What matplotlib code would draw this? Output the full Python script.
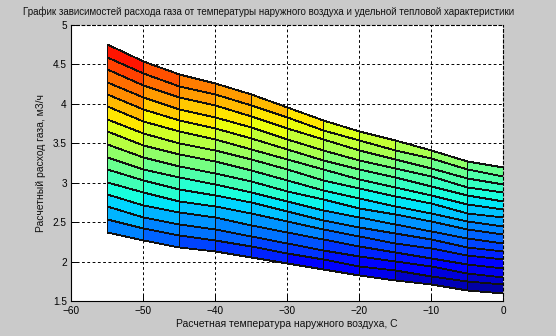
import numpy as np
import matplotlib
matplotlib.use('Agg')
import matplotlib.pyplot as plt

plt.rcParams['font.family'] = ['Liberation Sans', 'DejaVu Sans']
plt.rcParams['lines.scale_dashes'] = False

# Outdoor air design temperature, C (surface columns)
temperatures = [-55, -50, -45, -40, -35, -30, -25, -20, -15, -10, -5, 0]

# Design gas consumption, m3/h: one row per specific heat characteristic level
# (bottom row = lowest characteristic, top row = highest)
gas_flow = [
    [2.38, 2.27, 2.19, 2.13, 2.06, 1.98, 1.90, 1.83, 1.77, 1.71, 1.64, 1.60],
    [2.54, 2.42, 2.34, 2.27, 2.20, 2.11, 2.03, 1.95, 1.89, 1.82, 1.75, 1.71],
    [2.70, 2.57, 2.48, 2.41, 2.33, 2.24, 2.15, 2.07, 2.01, 1.94, 1.86, 1.81],
    [2.86, 2.72, 2.63, 2.56, 2.47, 2.38, 2.28, 2.20, 2.12, 2.05, 1.97, 1.92],
    [3.01, 2.88, 2.77, 2.70, 2.61, 2.51, 2.41, 2.32, 2.24, 2.17, 2.08, 2.03],
    [3.17, 3.03, 2.92, 2.84, 2.75, 2.64, 2.53, 2.44, 2.36, 2.28, 2.19, 2.13],
    [3.33, 3.18, 3.07, 2.98, 2.88, 2.77, 2.66, 2.56, 2.48, 2.39, 2.30, 2.24],
    [3.49, 3.33, 3.21, 3.12, 3.02, 2.90, 2.79, 2.68, 2.60, 2.51, 2.41, 2.35],
    [3.65, 3.48, 3.36, 3.27, 3.16, 3.04, 2.91, 2.81, 2.71, 2.62, 2.51, 2.45],
    [3.81, 3.63, 3.50, 3.41, 3.30, 3.17, 3.04, 2.93, 2.83, 2.74, 2.62, 2.56],
    [3.97, 3.78, 3.65, 3.55, 3.43, 3.30, 3.17, 3.05, 2.95, 2.85, 2.73, 2.67],
    [4.13, 3.94, 3.80, 3.69, 3.57, 3.43, 3.29, 3.17, 3.07, 2.96, 2.84, 2.77],
    [4.28, 4.09, 3.94, 3.83, 3.71, 3.56, 3.42, 3.29, 3.19, 3.08, 2.95, 2.88],
    [4.44, 4.24, 4.09, 3.98, 3.85, 3.70, 3.55, 3.42, 3.30, 3.19, 3.06, 2.99],
    [4.60, 4.39, 4.23, 4.12, 3.98, 3.83, 3.67, 3.54, 3.42, 3.31, 3.17, 3.09],
    [4.76, 4.54, 4.38, 4.26, 4.12, 3.96, 3.80, 3.66, 3.54, 3.42, 3.28, 3.20],
]

x_ticks = [-60, -50, -40, -30, -20, -10, 0]
y_ticks = [1.5, 2, 2.5, 3, 3.5, 4, 4.5, 5]
y_tick_labels = ['1.5', '2', '2.5', '3', '3.5', '4', '4.5', '5']

title = 'График зависимостей расхода газа от температуры наружного воздуха и удельной тепловой характеристики'
xlabel = 'Расчетная температура наружного воздуха, С'
ylabel = 'Расчетный расход газа, м3/ч'

W, H = 556, 336
fig = plt.figure(figsize=(W / 100, H / 100), dpi=100, facecolor='#cacaca')
ax = fig.add_axes([71 / W, 1 - 301 / H, 432 / W, 276 / H])
ax.set_facecolor('white')

T = np.array(temperatures, dtype=float)
G = np.array(gas_flow, dtype=float)
X = np.tile(T, (G.shape[0], 1))
C = G[:-1, :-1]
cmap = plt.get_cmap('jet', 64)
ax.set_xlim(-60, 0)
ax.set_ylim(1.5, 5)
ax.pcolormesh(X, G, C, cmap=cmap, vmin=1.5, vmax=5.0, shading='flat',
              edgecolors='#111111', linewidth=0.6, zorder=2)

ax.set_xticks(x_ticks)
ax.set_yticks(y_ticks)
ax.set_yticklabels(y_tick_labels)
ax.set_axisbelow(True)
ax.grid(True, color='black', linestyle=(0, (2.0, 1.8)), linewidth=0.7, zorder=0)
ax.tick_params(direction='in', length=4, width=0.7, labelsize=7.2,
               colors='black', top=False, right=False)
ax.tick_params(axis='x', pad=3.5)
ax.tick_params(axis='y', pad=3)
for s in ['left', 'bottom']:
    ax.spines[s].set_linewidth(0.8)
for s in ['top', 'right']:
    ax.spines[s].set_linestyle((0, (2.0, 1.8)))
    ax.spines[s].set_linewidth(0.8)

fig.text(268.5 / W, 1 - 12 / H, title, fontsize=7.0, ha='center', va='center',
         color='#111111')
ax.set_xlabel(xlabel, fontsize=7.5, labelpad=2, color='#111111')
ax.set_ylabel(ylabel, fontsize=7.5, labelpad=5, color='#111111')

fig.savefig('out.png', dpi=100, facecolor=fig.get_facecolor())
